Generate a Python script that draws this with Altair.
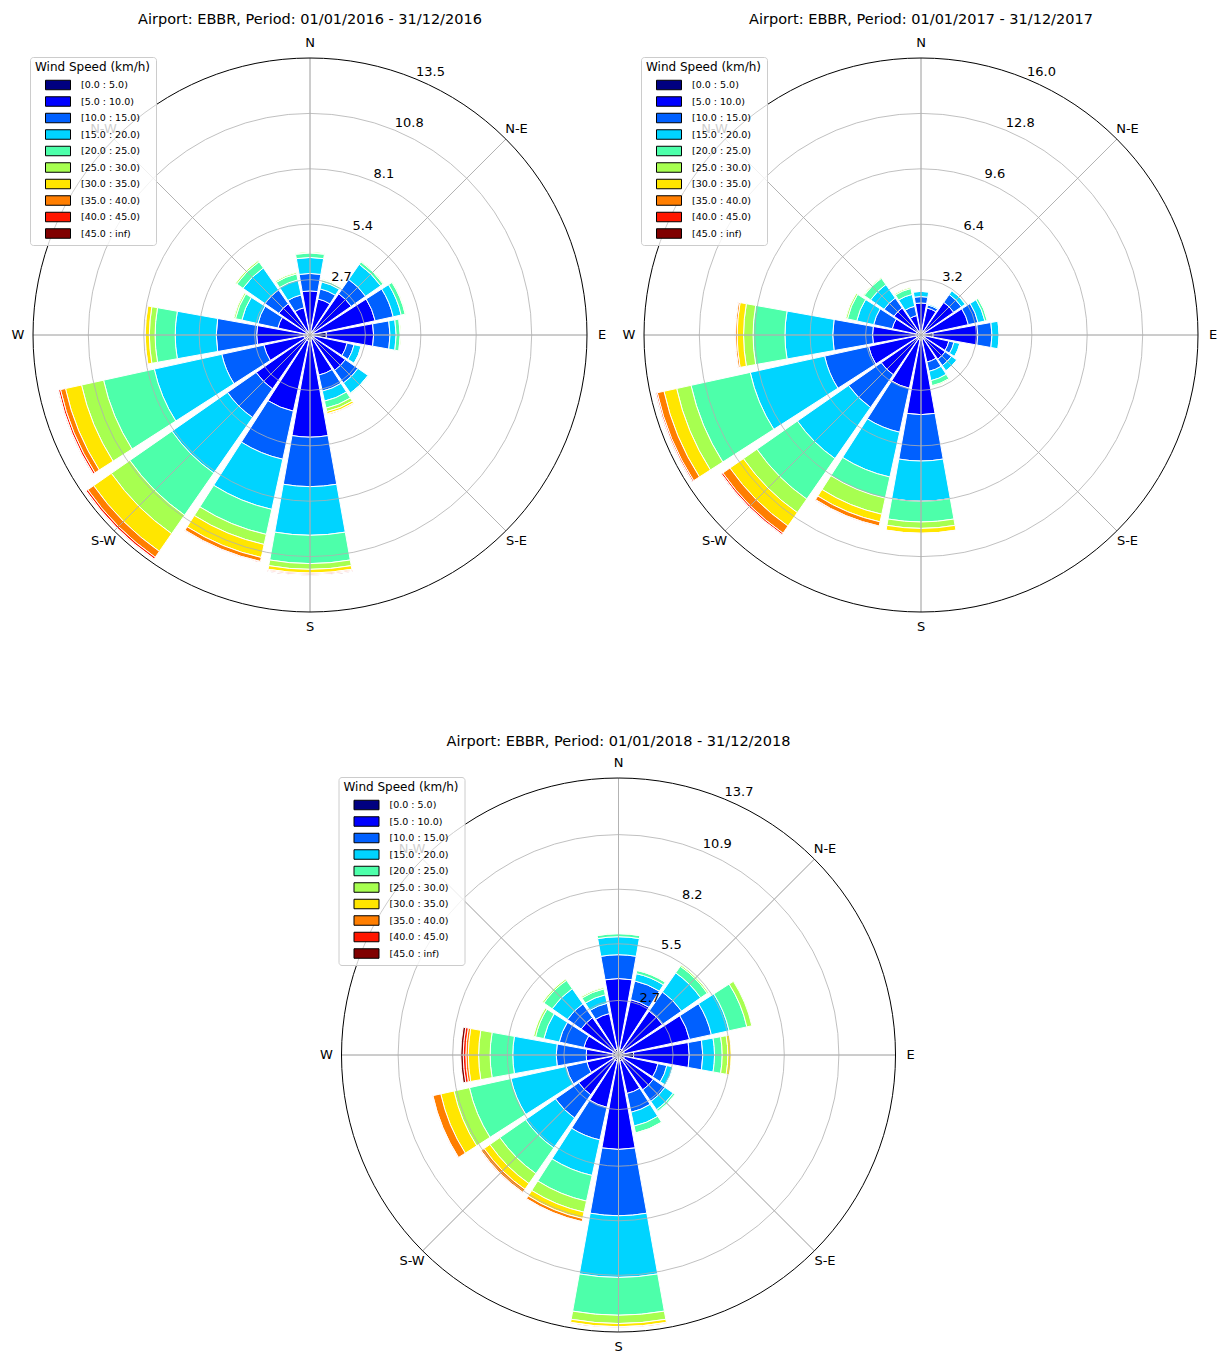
import math
import altair as alt
import pandas as pd

FONT = "DejaVu Sans"

directions = ["N", "NNE", "NE", "ENE", "E", "ESE", "SE", "SSE",
              "S", "SSW", "SW", "WSW", "W", "WNW", "NW", "NNW"]
speed_bins = ["[0.0 : 5.0)", "[5.0 : 10.0)", "[10.0 : 15.0)", "[15.0 : 20.0)",
              "[20.0 : 25.0)", "[25.0 : 30.0)", "[30.0 : 35.0)", "[35.0 : 40.0)",
              "[40.0 : 45.0)", "[45.0 : inf)"]
bin_colors = ["#000080", "#0000fe", "#0060ff", "#00d4ff", "#4dffaa",
              "#a7ff50", "#ffe600", "#ff7e00", "#ff1600", "#800000"]
compass_labels = ["N", "N-E", "E", "S-E", "S", "S-W", "W", "N-W"]

# Cumulative frequency (%) at the outer edge of each speed band, per direction
cum_2016 = {
    "N":   [0.2, 2.15, 3.0, 3.78, 4.0, 4.03, 4.03, 4.03, 4.03, 4.03],
    "NNE": [0.2, 1.8, 2.3, 2.65, 2.75, 2.78, 2.78, 2.78, 2.78, 2.78],
    "NE":  [0.2, 2.45, 3.3, 4.2, 4.35, 4.38, 4.38, 4.38, 4.38, 4.38],
    "ENE": [0.2, 3.25, 4.15, 4.55, 4.75, 4.78, 4.78, 4.78, 4.78, 4.78],
    "E":   [0.8, 3.1, 3.9, 4.2, 4.4, 4.42, 4.42, 4.42, 4.42, 4.42],
    "ESE": [0.2, 1.85, 2.2, 2.55, 2.57, 2.57, 2.57, 2.57, 2.57, 2.57],
    "SE":  [0.2, 2.1, 2.85, 3.45, 3.47, 3.47, 3.47, 3.47, 3.47, 3.47],
    "SSE": [0.2, 2.0, 2.8, 3.3, 3.65, 3.82, 3.93, 3.96, 3.96, 3.96],
    "S":   [0.3, 4.98, 7.39, 9.76, 11.14, 11.42, 11.6, 11.65, 11.7, 11.71],
    "SSW": [0.3, 3.8, 6.2, 8.7, 9.95, 10.45, 11.1, 11.3, 11.33, 11.33],
    "SW":  [0.3, 3.2, 4.9, 8.2, 10.7, 11.8, 12.85, 13.2, 13.3, 13.32],
    "WSW": [0.3, 2.3, 4.4, 7.77, 10.3, 11.4, 12.2, 12.45, 12.55, 12.57],
    "W":   [0.3, 2.6, 4.57, 6.57, 7.55, 7.83, 8.03, 8.06, 8.07, 8.07],
    "WNW": [0.2, 1.6, 2.6, 3.4, 3.72, 3.8, 3.8, 3.8, 3.8, 3.8],
    "NW":  [0.2, 1.85, 2.68, 3.98, 4.35, 4.42, 4.42, 4.42, 4.42, 4.42],
    "NNW": [0.2, 1.36, 2.0, 2.75, 3.05, 3.12, 3.12, 3.12, 3.12, 3.12],
}
cum_2017 = {
    "N":   [0.25, 1.85, 2.22, 2.52, 2.54, 2.54, 2.54, 2.54, 2.54, 2.54],
    "NNE": [0.25, 1.6, 1.78, 1.85, 1.86, 1.86, 1.86, 1.86, 1.86, 1.86],
    "NE":  [0.25, 2.3, 2.85, 3.12, 3.15, 3.15, 3.15, 3.15, 3.15, 3.15],
    "ENE": [0.25, 2.8, 3.37, 3.78, 3.92, 3.94, 3.94, 3.94, 3.94, 3.94],
    "E":   [0.7, 3.28, 4.1, 4.52, 4.53, 4.53, 4.53, 4.53, 4.53, 4.53],
    "ESE": [0.25, 1.65, 1.95, 2.3, 2.31, 2.31, 2.31, 2.31, 2.31, 2.31],
    "SE":  [0.25, 1.7, 2.15, 2.52, 2.53, 2.53, 2.53, 2.53, 2.53, 2.53],
    "SSE": [0.25, 1.6, 2.15, 2.7, 3.0, 3.05, 3.05, 3.05, 3.05, 3.05],
    "S":   [0.3, 4.6, 7.28, 9.6, 10.8, 11.17, 11.45, 11.48, 11.49, 11.49],
    "SSW": [0.3, 3.15, 5.75, 8.4, 9.65, 10.6, 11.05, 11.3, 11.33, 11.33],
    "SW":  [0.3, 2.8, 5.1, 8.7, 11.55, 12.5, 13.45, 13.95, 14.05, 14.07],
    "WSW": [0.3, 3.1, 5.7, 10.1, 13.6, 14.45, 15.2, 15.6, 15.68, 15.7],
    "W":   [0.3, 2.8, 5.1, 7.86, 9.7, 10.25, 10.62, 10.72, 10.74, 10.75],
    "WNW": [0.3, 1.7, 2.8, 3.8, 4.35, 4.45, 4.45, 4.45, 4.45, 4.45],
    "NW":  [0.3, 1.9, 2.6, 3.55, 4.0, 4.05, 4.05, 4.05, 4.05, 4.05],
    "NNW": [0.25, 1.15, 1.7, 2.4, 2.75, 2.82, 2.82, 2.82, 2.82, 2.82],
}
cum_2018 = {
    "N":   [0.3, 3.78, 4.96, 5.85, 6.0, 6.02, 6.02, 6.02, 6.02, 6.02],
    "NNE": [0.3, 2.8, 3.75, 4.12, 4.28, 4.3, 4.3, 4.3, 4.3, 4.3],
    "NE":  [0.3, 2.65, 3.8, 4.95, 5.35, 5.42, 5.42, 5.42, 5.42, 5.42],
    "ENE": [0.3, 3.6, 4.7, 5.6, 6.5, 6.75, 6.75, 6.75, 6.75, 6.75],
    "E":   [0.75, 3.5, 4.17, 4.75, 5.13, 5.41, 5.57, 5.57, 5.57, 5.57],
    "ESE": [0.3, 2.0, 2.45, 2.75, 2.75, 2.75, 2.75, 2.75, 2.75, 2.75],
    "SE":  [0.3, 2.1, 2.8, 3.3, 3.4, 3.4, 3.4, 3.4, 3.4, 3.4],
    "SSE": [0.3, 1.95, 2.9, 3.6, 3.95, 3.97, 3.97, 3.97, 3.97, 3.97],
    "S":   [0.3, 4.67, 7.95, 11.0, 12.87, 13.28, 13.44, 13.46, 13.46, 13.46],
    "SSW": [0.3, 2.65, 4.3, 6.1, 7.4, 7.96, 8.28, 8.44, 8.46, 8.46],
    "SW":  [0.3, 2.4, 3.8, 5.6, 7.15, 7.75, 8.1, 8.28, 8.3, 8.3],
    "WSW": [0.3, 1.6, 2.65, 5.45, 7.55, 8.33, 9.0, 9.4, 9.42, 9.42],
    "W":   [0.3, 1.6, 3.08, 5.23, 6.35, 6.92, 7.43, 7.55, 7.68, 7.8],
    "WNW": [0.3, 1.75, 3.0, 3.78, 4.2, 4.3, 4.3, 4.3, 4.3, 4.3],
    "NW":  [0.3, 2.25, 3.08, 4.0, 4.5, 4.58, 4.58, 4.58, 4.58, 4.58],
    "NNW": [0.3, 2.1, 2.62, 3.05, 3.35, 3.42, 3.42, 3.42, 3.42, 3.42],
}

ticks_2016 = [2.7, 5.4, 8.1, 10.8, 13.5]
ticks_2017 = [3.2, 6.4, 9.6, 12.8, 16.0]
ticks_2018 = [2.7, 5.5, 8.2, 10.9, 13.7]

titles = ["Airport: EBBR, Period: 01/01/2016 - 31/12/2016",
          "Airport: EBBR, Period: 01/01/2017 - 31/12/2017",
          "Airport: EBBR, Period: 01/01/2018 - 31/12/2018"]

R_PX = 277          # outer circle radius in pixels
LABEL_R = 292       # compass label radius in pixels
HALF_W = math.radians(10.15)
GRID = "#b0b0b0"


def panel(cum, ticks, title, width, height, cx, cy, title_y):
    rmax = ticks[-1]
    rows = []
    for i, d in enumerate(directions):
        a = i * math.pi / 8
        prev = 0.0
        for j, v in enumerate(cum[d]):
            if v > prev + 1e-9:
                rows.append(dict(direction=d, speed=speed_bins[j], k=j,
                                 t0=a - HALF_W, t1=a + HALF_W, r0=prev, r1=v))
                prev = v
    bars_df = pd.DataFrame(rows)
    rscale = alt.Scale(type="linear", domain=[0, rmax], range=[0, R_PX],
                       zero=True, nice=False)
    X = alt.value(cx)
    Y = alt.value(cy)

    legend = alt.Legend(
        title="Wind Speed (km/h)", orient="none",
        legendX=cx - 280, legendY=cy - 278,
        titleFont=FONT, titleFontSize=12, titleFontWeight="normal",
        titleColor="black", titlePadding=5,
        labelFont=FONT, labelFontSize=9.5, labelColor="black", labelOffset=10,
        symbolType="M-1,-0.38H1V0.38H-1Z", symbolSize=625,
        symbolStrokeColor="black", symbolStrokeWidth=1, symbolOffset=10,
        fillColor="rgba(255,255,255,0.8)", strokeColor="#cccccc",
        cornerRadius=3, padding=5, rowPadding=4.5, clipHeight=12,
    )

    bars = alt.Chart(bars_df).mark_arc(stroke="white", strokeWidth=1).encode(
        x=X, y=Y,
        theta=alt.Theta("t0:Q", scale=None, stack=False),
        theta2=alt.Theta2("t1"),
        radius=alt.Radius("r1:Q", scale=rscale, stack=False),
        radius2=alt.Radius2("r0"),
        color=alt.Color("speed:N",
                        scale=alt.Scale(domain=speed_bins, range=bin_colors),
                        legend=legend),
    )

    ring_df = pd.DataFrame({"r": ticks, "t0": 0.0, "t1": 2 * math.pi + 0.001})
    inner_rings = alt.Chart(ring_df[:-1]).mark_arc(
        filled=False, stroke=GRID, strokeWidth=0.8).encode(
        x=X, y=Y,
        theta=alt.Theta("t0:Q", scale=None, stack=False),
        theta2=alt.Theta2("t1"),
        radius=alt.Radius("r:Q", scale=rscale, stack=False),
    )
    outer_ring = alt.Chart(ring_df[-1:]).mark_arc(
        filled=False, stroke="black", strokeWidth=1).encode(
        x=X, y=Y,
        theta=alt.Theta("t0:Q", scale=None, stack=False),
        theta2=alt.Theta2("t1"),
        radius=alt.Radius("r:Q", scale=rscale, stack=False),
    )

    spoke_df = pd.DataFrame({"a": [k * math.pi / 4 for k in range(8)],
                             "r": rmax})
    spokes = alt.Chart(spoke_df).mark_arc(
        filled=False, stroke=GRID, strokeWidth=0.8).encode(
        x=X, y=Y,
        theta=alt.Theta("a:Q", scale=None, stack=False),
        theta2=alt.Theta2("a"),
        radius=alt.Radius("r:Q", scale=rscale, stack=False),
    )

    rlab_df = pd.DataFrame({"r": ticks, "a": math.radians(22.5)})
    ring_labels = alt.Chart(rlab_df).mark_text(
        align="left", baseline="bottom", font=FONT, fontSize=13,
        color="black").encode(
        x=X, y=Y,
        theta=alt.Theta("a:Q", scale=None, stack=False),
        radius=alt.Radius("r:Q", scale=rscale, stack=False),
        text=alt.Text("r:Q", format=".1f"),
    )

    dir_df = pd.DataFrame({"label": compass_labels,
                           "a": [k * math.pi / 4 for k in range(8)]})
    dir_labels = alt.Chart(dir_df).mark_text(
        align="center", baseline="middle", font=FONT, fontSize=13,
        color="black", radius=LABEL_R).encode(
        x=X, y=Y,
        theta=alt.Theta("a:Q", scale=None, stack=False),
        text="label:N",
    )

    title_mark = alt.Chart(pd.DataFrame({"title": [title]})).mark_text(
        align="center", baseline="alphabetic", font=FONT, fontSize=14.5,
        color="black").encode(
        x=X, y=alt.value(title_y), text="title:N",
    )

    return alt.layer(bars, inner_rings, spokes, outer_ring, ring_labels,
                     dir_labels, title_mark).properties(
        width=width, height=height)


# page coords -> svg coords (page margin 8px)
p1 = panel(cum_2016, ticks_2016, titles[0], 604, 626, 302, 327, 16)
p2 = panel(cum_2017, ticks_2017, titles[1], 606, 626, 309, 327, 16)
p3 = panel(cum_2018, ticks_2018, titles[2], 1210, 720, 610.5, 421, 112)

top = alt.hconcat(p1, p2, spacing=0).resolve_scale(
    radius="independent", color="independent")
chart = alt.vconcat(top, p3, spacing=0).resolve_scale(
    radius="independent", color="independent").properties(
    padding={"left": 0, "top": 0, "right": 0, "bottom": 0}
).configure_view(stroke=None)

chart.save("out.html", embed_options={"renderer": "svg", "actions": False})
